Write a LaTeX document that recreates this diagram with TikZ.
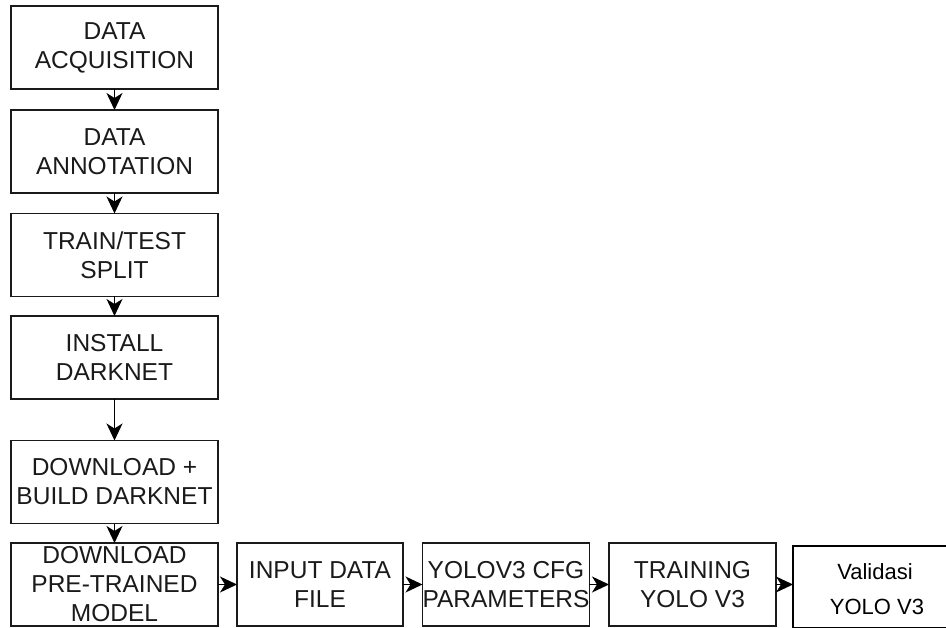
\documentclass[tikz,border=0pt]{standalone}
\usepackage{fontspec}
\setmainfont{Liberation Sans}
\usetikzlibrary{arrows.meta}
\definecolor{ink}{HTML}{1A1A1A}
\begin{document}
\begin{tikzpicture}[x=1pt,y=-1pt,
  stepbox/.style={draw=ink,line width=1.6pt,fill=white,align=center,
    inner sep=0pt,outer sep=0pt,minimum height=83pt,text=ink,
    font=\fontsize{24.5}{29}\selectfont},
  wide/.style={stepbox,minimum width=207pt},
  narrow/.style={stepbox,minimum width=166pt},
  lastbox/.style={draw=black,line width=2pt,fill=white,
    inner sep=0pt,outer sep=0pt,minimum width=164pt,minimum height=82pt},
  lasttext/.style={font=\fontsize{22}{26}\selectfont,inner sep=0pt,anchor=base},
  arr/.style={draw=black,line width=1.4pt,
    -{Stealth[length=17pt,width=16pt,inset=5pt]}}]
\useasboundingbox (0,0) rectangle (946,628);

% left column
\node[wide] (acq) at (114.5,47.5) {DATA\\ACQUISITION};
\node[wide] (ann) at (114.5,151.5) {DATA\\ANNOTATION};
\node[wide] (split) at (114.5,255) {TRAIN/TEST\\SPLIT};
\node[wide] (inst) at (114.5,357.5) {INSTALL\\DARKNET};
\node[wide] (build) at (114.5,482) {DOWNLOAD +\\BUILD DARKNET};
\node[wide] (pre) at (114.5,584.5) {DOWNLOAD\\PRE-TRAINED\\MODEL};

% bottom row
\node[narrow] (input) at (320,584.5) {INPUT DATA\\FILE};
\node[narrow] (cfg) at (506,584.5) {YOLOV3 CFG\\PARAMETERS};
\node[narrow,minimum width=167pt] (train) at (692.5,584.5) {TRAINING\\YOLO V3};
\node[lastbox] (val) at (875,586.5) {};
\node[lasttext] (valA) at (875,579) {Validasi};
\node[lasttext] (valB) at (877,614) {YOLO V3};

% connectors
\draw[arr] (acq.south) -- (ann.north);
\draw[arr] (ann.south) -- (split.north);
\draw[arr] (split.south) -- (inst.north);
\draw[arr] (inst.south) -- (build.north);
\draw[arr] (build.south) -- (pre.north);
\draw[arr] (pre.east) -- (input.west);
\draw[arr] (input.east) -- (cfg.west);
\draw[arr] (cfg.east) -- (train.west);
\draw[arr] (train.east) -- (train.east -| val.west);
\end{tikzpicture}
\end{document}
